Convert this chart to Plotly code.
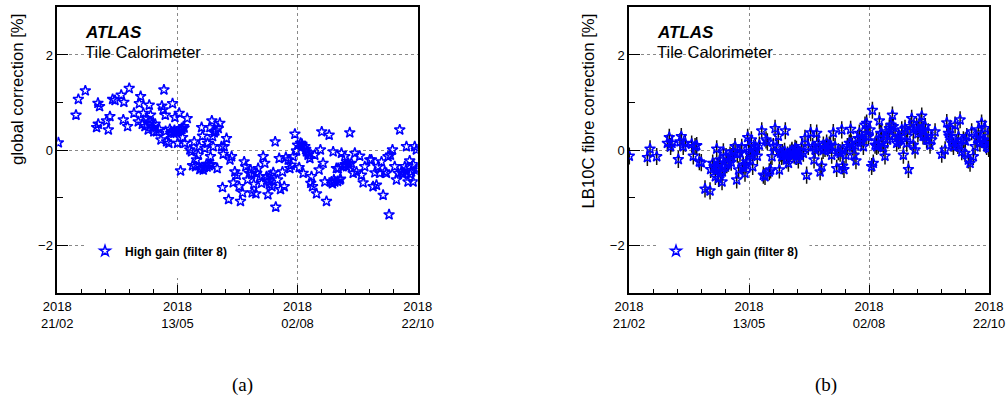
import datetime as dt
import plotly.graph_objects as go

# ---------------- data ----------------
START = "2018-02-21"
END = "2018-10-22"
tick_dates = ["2018-02-21", "2018-05-13", "2018-08-02", "2018-10-22"]
tick_labels = ["2018<br>21/02", "2018<br>13/05", "2018<br>02/08", "2018<br>22/10"]

# panel (a): days since 2018-02-21, global correction [%]
days_a = [0.7, 12.6, 14.2, 18.9, 26.5, 27.6, 27.4, 28.5, 33.2, 34.4, 35.5, 37.3, 38.9, 43.1, 44.9, 44.5,
          47.4, 48.5, 51.7, 54.6, 55.3, 56.2, 57.3, 58.0, 59.1, 60.2, 61.3, 62.0, 62.9, 63.6, 65.1, 66.9,
          68.7, 69.9, 70.5, 71.9, 71.4, 72.8, 73.7, 75.2, 75.9, 77.0, 77.7, 78.6, 79.3, 80.4, 81.1, 82.2,
          82.7, 83.1, 83.8, 84.5, 85.1, 86.0, 87.6, 89.4, 90.5, 91.2, 92.3, 93.2, 93.9, 95.0, 95.7, 96.1,
          97.3, 97.9, 98.4, 99.5, 100.6, 101.3, 102.4, 102.9, 103.3, 104.2, 104.7, 105.1, 105.8, 106.9,
          107.8, 108.5, 109.6, 110.7, 111.4, 111.9, 112.5, 114.1, 115.5, 116.4, 117.5, 118.6, 119.7, 121.3,
          122.6, 123.5, 124.9, 126.0, 127.1, 128.3, 129.4, 130.3, 131.4, 132.5, 133.9, 135.4, 136.6, 137.7,
          138.8, 139.9, 141.1, 142.0, 142.9, 143.8, 144.7, 145.6, 146.9, 147.3, 148.5, 149.6, 150.5, 151.8,
          153.0, 154.1, 155.7, 156.8, 157.7, 159.0, 160.2, 161.3, 162.0, 163.1, 164.0, 164.9, 165.8, 166.9,
          168.0, 169.1, 170.3, 170.9, 171.4, 172.1, 173.6, 174.8, 176.5, 177.4, 178.3, 179.2, 180.4, 181.5,
          183.3, 184.9, 186.0, 187.1, 188.2, 189.4, 190.5, 191.6, 192.7, 193.8, 195.0, 196.1, 197.2, 198.3,
          199.5, 200.6, 201.7, 203.9, 205.1, 206.2, 207.3, 210.7, 211.8, 212.9, 214.1, 215.2, 216.3, 217.4,
          218.6, 219.7, 220.8, 221.9, 223.0, 223.7, 224.6, 226.0, 227.5, 228.7, 229.8, 230.9, 232.0, 233.2,
          234.3, 235.4, 236.5, 237.6, 238.8, 239.9, 241.0, 242.1, 242.6,
          62.5, 64.5, 66.0, 73.0, 76.5, 79.0, 81.5, 84.0, 85.5, 96.8, 99.0, 101.0, 103.8, 131.0, 134.5,
          141.5, 143.0, 165.0, 167.5, 169.5, 185.5, 186.5, 189.0, 191.0, 194.0, 196.5, 233.0, 235.0, 238.0,
          240.0, 241.5]
vals_a = [0.16, 0.74, 1.07, 1.25, 0.48, 0.55, 0.99, 0.92, 0.62, 0.43, 0.71, 1.07, 1.05, 1.16, 1.01, 0.64,
          0.50, 1.30, 0.78, 0.60, 0.98, 1.13, 0.55, 0.78, 0.50, 0.67, 0.43, 0.95, 0.74, 0.55, 0.39, 0.39,
          0.44, 0.22, 0.93, 1.27, 0.85, 0.74, 0.18, 0.15, 0.44, 0.39, 0.98, 0.36, 0.69, 0.39, 0.15, 0.78,
          0.43, -0.43, 0.46, 0.27, 0.50, 0.15, 0.67, 0.01, -0.03, -0.32, 0.18, -0.34, -0.20, -0.10, 0.08, -0.40,
          0.48, 0.30, -0.41, 0.04, -0.29, 0.15, -0.32, 0.48, -0.13, 0.62, 0.29, 0.08, 0.37, 0.41,
          -0.38, 0.46, 0.57, 0.08, -0.78, -0.08, 0.08, 0.25, -1.03, -0.20, -0.13, -0.68, -0.45, -0.52,
          -0.76, -1.07, -0.89, -0.24, -0.34, -0.62, -0.48, -0.41, -0.89, -0.71, -0.91, -0.38, -0.55, -0.69,
          -0.13, -0.27, -0.55, -0.93, -0.66, -0.52, -0.76, -0.47, 0.18, -1.19, -0.62, -0.17, -0.82, -0.45,
          -0.76, -0.15, -0.20, -0.38, -0.31, -0.13, 0.34, -0.01, 0.11, -0.36, 0.15, 0.13, -0.48, 0.08,
          -0.03, -0.10, -0.17, -0.69, -0.55, -0.76, -0.10, -0.91, -0.41, 0.01, 0.39, -0.27, -0.66, -1.07,
          0.32, -0.66, -0.03, -0.66, -0.38, -0.38, -0.62, -0.06, -0.34, -0.13, -0.34, -0.27, 0.37, -0.27,
          -0.48, -0.06, -0.45, -0.12, -0.52, -0.68, -0.34, -0.20, -0.20, -0.76, -0.47, -0.73, -0.34, -0.48,
          -0.24, -0.94, -0.45, -0.48, -0.13, -1.35, -0.10, 0.01, -0.34, -0.62, -0.48, 0.43, -0.45, -0.48,
          -0.34, 0.08, -0.66, -0.22, -0.45, -0.66, 0.08, 0.01, -0.40,
          0.60, 0.48, 0.55, 0.40, 0.36, 0.42, 0.40, 0.44, 0.47, -0.38, -0.36, -0.35, -0.30, -0.50, -0.48,
          -0.62, -0.72, 0.10, 0.02, -0.05, -0.70, -0.62, -0.65, -0.60, -0.30, -0.30, -0.50, -0.42, -0.50,
          -0.30, -0.42]

# panel (b): days since 2018-02-21, LB10C fibre correction [%]
days_b = [0.2, 12.4, 14.2, 18.7, 25.9, 27.2, 28.1, 29.0, 33.3, 34.4, 35.3, 36.6, 38.0, 42.3, 43.4, 44.6,
          45.7, 47.5, 48.8, 51.3, 54.7, 55.1, 56.5, 57.4, 58.3, 59.2, 59.6, 60.5, 61.0, 61.9, 62.8, 63.7,
          64.8, 65.5, 67.1, 68.2, 69.3, 70.4, 71.6, 72.7, 73.1, 74.0, 74.9, 76.1, 77.2, 78.3, 79.4, 80.1,
          80.8, 81.7, 82.6, 83.5, 84.4, 85.3, 86.6, 88.0, 89.6, 90.7, 91.8, 92.5, 93.4, 94.7, 95.6, 96.5,
          97.4, 98.6, 99.7, 100.8, 101.5, 102.4, 103.1, 104.2, 105.5, 106.4, 107.6, 108.7, 109.8, 110.9,
          112.1, 113.2, 114.3, 115.4, 116.6, 117.7, 118.8, 119.9, 121.0, 122.6, 124.0, 124.9, 125.6, 126.7,
          127.8, 129.0, 130.1, 131.2, 132.3, 133.4, 135.2, 136.8, 137.9, 139.1, 140.2, 141.3, 142.5, 143.6,
          144.2, 145.1, 146.5, 147.4, 148.7, 149.6, 150.8, 151.9, 153.2, 154.4, 155.5, 157.1, 158.2, 159.3,
          160.4, 161.6, 162.7, 163.8, 164.3, 164.9, 166.1, 167.2, 168.3, 169.0, 169.9, 170.8, 171.7, 172.8,
          173.5, 174.6, 175.7, 176.9, 177.8, 178.4, 179.6, 180.7, 181.8, 183.0, 184.1, 185.2, 186.3, 187.5,
          188.6, 189.7, 190.8, 191.9, 193.1, 194.2, 195.3, 196.4, 197.6, 198.7, 199.8, 200.9, 202.0, 203.2,
          204.3, 206.6, 211.1, 213.4, 214.5, 215.6, 216.8, 217.9, 219.0, 220.1, 221.2, 222.4, 223.5, 224.6,
          225.7, 226.8, 228.0, 229.1, 230.2, 231.3, 232.4, 233.6, 234.7, 235.8, 236.9, 238.0, 239.2, 240.3,
          241.4, 242.3, 242.8,
          60.0, 61.5, 63.0, 66.0, 69.0, 76.8, 79.0, 82.0, 85.0, 103.5, 105.0, 107.0, 110.0, 111.5, 113.0,
          128.0, 131.0, 134.0, 136.0, 144.0, 150.0, 153.0, 157.0, 160.0, 167.0, 170.5, 176.0, 182.0, 188.0,
          192.0, 195.0, 198.5, 200.0, 216.0, 218.0, 222.0, 227.0, 237.0, 240.0]
vals_b = [-0.12, -0.15, 0.03, -0.13, 0.15, 0.27, 0.08, 0.15, -0.19, 0.18, 0.29, 0.08, 0.15, 0.13, -0.12, 0.08,
          0.10, -0.24, -0.26, -0.81, -0.85, -0.40, -0.27, -0.34, -0.55, 0.03, -0.34, -0.59, -0.27, -0.48, -0.66, -0.03,
          -0.34, -0.13, -0.27, -0.10, -0.13, -0.03, 0.08, -0.62, -0.08, -0.41, -0.06, 0.06, -0.31, -0.48, -0.24, 0.27,
          0.08, -0.06, 0.22, -0.34, -0.03, 0.08, -0.12, 0.11, 0.41, -0.52, -0.55, 0.22, 0.18, -0.45, -0.41, -0.13,
          0.08, 0.46, 0.08, 0.30, -0.41, -0.06, -0.13, -0.10, 0.41, -0.20, -0.27, -0.06, -0.03, -0.06,
          0.04, -0.13, -0.20, -0.10, 0.08, -0.06, 0.25, -0.52, 0.08, 0.37, 0.08, -0.20, 0.01, 0.36,
          0.15, -0.45, -0.33, 0.11, 0.04, 0.15, 0.11, -0.10, 0.37, 0.08, -0.38, -0.03, -0.06, 0.43,
          -0.33, -0.40, -0.10, 0.08, 0.15, 0.44, 0.08, -0.10, -0.22, 0.25, 0.36, 0.18, 0.08, 0.53,
          0.57, 0.29, 0.43, -0.34, 0.84, -0.27, 0.11, 0.08, 0.11, 0.62, 0.36, 0.15, 0.06, -0.12,
          0.39, 0.22, 0.46, 0.53, 0.74, 0.50, 0.36, 0.15, 0.29, 0.22, 0.43, -0.10, 0.46, 0.15,
          -0.40, 0.50, 0.67, 0.11, 0.01, 0.50, 0.43, 0.57, 0.72, 0.43, 0.29, 0.22, 0.39, 0.11,
          0.22, 0.39, -0.08, 0.01, 0.58, 0.36, 0.46, 0.22, 0.08, 0.53, 0.15, 0.29, 0.64, -0.03,
          0.22, -0.06, 0.29, -0.20, -0.27, 0.39, -0.13, 0.08, 0.25, 0.43, 0.15, 0.57, 0.22, 0.46,
          0.08, 0.29, 0.04,
          -0.40, -0.20, -0.45, -0.30, -0.25, -0.35, -0.30, -0.10, 0.00, -0.05, -0.02, -0.10, 0.00, -0.10, 0.02,
          0.05, 0.00, 0.05, 0.10, 0.00, 0.15, 0.10, 0.25, 0.30, 0.20, 0.35, 0.30, 0.20, 0.30,
          0.45, 0.35, 0.30, 0.50, 0.30, 0.15, 0.10, 0.20, 0.25, 0.15]
err_b = 0.18  # typical statistical uncertainty [%]

series_name = "<b>High gain (filter 8)</b>"
ytitle_a = "global correction [%]"
ytitle_b = "LB10C fibre correction [%]"

# ---------------- figure ----------------
base = dt.datetime(2018, 2, 21)
def to_dates(days):
    return [base + dt.timedelta(days=d) for d in days]

W, H = 1007, 408
FONT = "Liberation Sans, Arial, Helvetica, sans-serif"
BLUE = "#0000ff"

fig = go.Figure()
fig.add_trace(go.Scatter(
    x=to_dates(days_a), y=vals_a, mode="markers", name=series_name,
    marker=dict(symbol="star-open", size=8, color=BLUE, line=dict(width=1.5, color=BLUE)),
    xaxis="x", yaxis="y", legend="legend"))
fig.add_trace(go.Scatter(
    x=to_dates(days_b), y=vals_b, mode="markers", name=series_name,
    error_y=dict(type="constant", value=err_b, color="#111", thickness=1.5, width=0),
    marker=dict(symbol="star-open", size=8, color=BLUE, line=dict(width=1.5, color=BLUE)),
    xaxis="x2", yaxis="y2", legend="legend2"))

# pixel geometry of the two frames
def px_x(p): return p / W
def px_y(p): return 1 - p / H
top, bot = 7.3, 293.3
ax_a = (57.3, 417.7)
ax_b = (629.0, 989.0)

minor_ms = 81 / 5 * 86400000

def xaxis(domain, anchor):
    return dict(
        domain=[px_x(domain[0]), px_x(domain[1])], anchor=anchor, type="date",
        range=[START, END], tickvals=tick_dates, ticktext=tick_labels, automargin=False,
        ticks="inside", ticklen=9, tickwidth=1, tickcolor="black",
        showline=True, mirror=True, linecolor="black", linewidth=1.5,
        showgrid=True, gridcolor="#888", griddash="dot", gridwidth=1,
        zeroline=False, tickfont=dict(family=FONT, size=13, color="black"),
        minor=dict(ticks="inside", ticklen=5, tickwidth=1, tickcolor="black",
                   dtick=minor_ms, tick0=START, showgrid=False),
    )

def yaxis(anchor):
    return dict(
        domain=[px_y(bot), px_y(top)], anchor=anchor, range=[-3, 3], automargin=False,
        tickvals=[-2, 0, 2], ticks="inside", ticklen=11, tickwidth=1, tickcolor="black",
        showline=True, mirror=True, linecolor="black", linewidth=1.5,
        showgrid=True, gridcolor="#888", griddash="dot", gridwidth=1,
        zeroline=False, tickfont=dict(family=FONT, size=13, color="black"),
        minor=dict(ticks="inside", ticklen=6, tickwidth=1, tickcolor="black",
                   dtick=1, showgrid=False),
    )

legend_common = dict(
    xanchor="left", yanchor="middle", bgcolor="white", borderwidth=0,
    font=dict(family=FONT, size=12, color="black"),
)

fig.update_layout(
    width=W, height=H, margin=dict(l=0, r=0, t=0, b=0, autoexpand=False),
    paper_bgcolor="white", plot_bgcolor="white",
    xaxis=xaxis(ax_a, "y"), yaxis=yaxis("x"),
    xaxis2=xaxis(ax_b, "y2"), yaxis2=yaxis("x2"),
    legend=dict(x=px_x(85), y=px_y(251), **legend_common),
    legend2=dict(x=px_x(656), y=px_y(251), **legend_common),
    showlegend=True,
)

# white legend boxes hiding the grid (between grid and markers), in data coords
box_x0 = base + dt.timedelta(days=19.4)
box_x1 = base + dt.timedelta(days=121.8)
for xr, yr in (("x", "y"), ("x2", "y2")):
    fig.add_shape(type="rect", xref=xr, yref=yr, x0=box_x0, x1=box_x1, y0=-2.68, y1=-1.5,
                  fillcolor="white", line=dict(width=0), layer="between")

ann = []
for x0, title, tx in ((ax_a[0], ytitle_a, 16.7), (ax_b[0], ytitle_b, 588.3)):
    ann.append(dict(x=px_x(x0 + 25.5), y=px_y(32.3), xref="paper", yref="paper",
                    text="<b><i>ATLAS</i></b>", showarrow=False, xanchor="left", yanchor="middle",
                    font=dict(family=FONT, size=17, color="black")))
    ann.append(dict(x=px_x(x0 + 25.5), y=px_y(51.7), xref="paper", yref="paper",
                    text="Tile Calorimeter", showarrow=False, xanchor="left", yanchor="middle",
                    font=dict(family=FONT, size=16.5, color="black")))
    ann.append(dict(x=px_x(tx), y=px_y(11.7), xref="paper", yref="paper",
                    text=title, showarrow=False, textangle=-90, xanchor="center", yanchor="top",
                    font=dict(family=FONT, size=16.7, color="black")))
ann.append(dict(x=px_x(242), y=px_y(385), xref="paper", yref="paper", text="(a)", showarrow=False,
                xanchor="center", yanchor="middle",
                font=dict(family="Liberation Serif, Times New Roman, serif", size=19, color="black")))
ann.append(dict(x=px_x(826), y=px_y(385), xref="paper", yref="paper", text="(b)", showarrow=False,
                xanchor="center", yanchor="middle",
                font=dict(family="Liberation Serif, Times New Roman, serif", size=19, color="black")))
fig.update_layout(annotations=ann)

fig.write_html("out.html")
